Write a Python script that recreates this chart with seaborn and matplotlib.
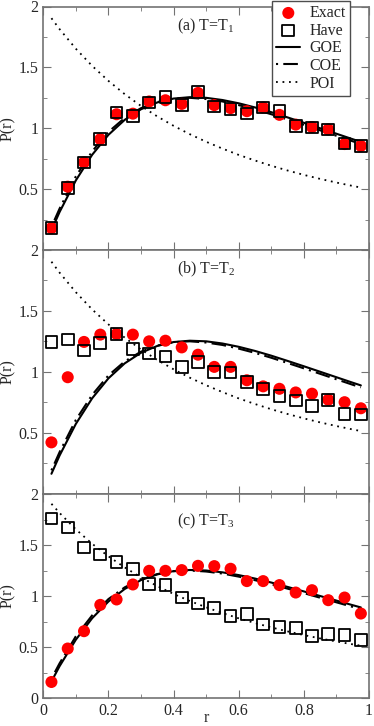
import matplotlib
matplotlib.use('Agg')
from matplotlib import pyplot as plt
import pandas as pd
import seaborn as sns

# bin centres of the histogram
r_bins = [0.025, 0.075, 0.125, 0.175, 0.225, 0.275, 0.325, 0.375, 0.425, 0.475,
          0.525, 0.575, 0.625, 0.675, 0.725, 0.775, 0.825, 0.875, 0.925, 0.975]

exact_a = [0.18, 0.52, 0.72, 0.91, 1.115, 1.12, 1.22, 1.23, 1.20, 1.29,
           1.19, 1.165, 1.14, 1.17, 1.11, 1.03, 1.01, 0.99, 0.87, 0.855]
have_a = [0.18, 0.51, 0.72, 0.91, 1.13, 1.10, 1.21, 1.255, 1.19, 1.30,
          1.18, 1.16, 1.12, 1.17, 1.14, 1.02, 1.005, 0.99, 0.875, 0.855]

exact_b = [0.42, 0.955, 1.245, 1.305, 1.31, 1.305, 1.25, 1.255, 1.20, 1.14,
           1.04, 1.04, 0.93, 0.88, 0.86, 0.83, 0.82, 0.77, 0.75, 0.70]
have_b = [1.245, 1.265, 1.175, 1.235, 1.31, 1.185, 1.15, 1.125, 1.04, 1.08,
          1.00, 0.995, 0.915, 0.86, 0.80, 0.765, 0.72, 0.77, 0.655, 0.65]

exact_c = [0.157, 0.485, 0.655, 0.913, 0.966, 1.113, 1.247, 1.247, 1.254, 1.296,
           1.293, 1.267, 1.146, 1.146, 1.107, 1.034, 1.057, 0.959, 0.985, 0.828]
have_c = [1.761, 1.673, 1.476, 1.408, 1.333, 1.264, 1.116, 1.106, 0.985, 0.926,
          0.884, 0.805, 0.822, 0.720, 0.697, 0.687, 0.605, 0.625, 0.615, 0.566]

# reference curves
r_curve = [0.025, 0.05, 0.1, 0.15, 0.2, 0.25, 0.3, 0.35, 0.4, 0.45, 0.5,
           0.55, 0.6, 0.65, 0.7, 0.75, 0.8, 0.85, 0.9, 0.95, 0.975]
goe = [0.162, 0.312, 0.572, 0.782, 0.946, 1.069, 1.156, 1.212, 1.244, 1.255, 1.25,
       1.232, 1.205, 1.171, 1.132, 1.089, 1.045, 1.000, 0.955, 0.910, 0.888]
coe = [0.19, 0.34, 0.605, 0.81, 0.97, 1.085, 1.165, 1.215, 1.243, 1.25, 1.24,
       1.22, 1.19, 1.155, 1.115, 1.072, 1.028, 0.983, 0.938, 0.893, 0.872]
poi = [1.904, 1.814, 1.653, 1.512, 1.389, 1.28, 1.183, 1.097, 1.020, 0.951, 0.889,
       0.833, 0.781, 0.735, 0.692, 0.653, 0.617, 0.584, 0.554, 0.526, 0.513]

titles = ['(a) T=T$_{1}$', '(b) T=T$_{2}$', '(c) T=T$_{3}$']

sns.set_style('ticks')
plt.rcParams['font.family'] = ['Liberation Serif', 'DejaVu Serif']
plt.rcParams['mathtext.default'] = 'regular'
plt.rcParams['font.size'] = 10.5

fig = plt.figure(figsize=(3.74, 7.26), dpi=100)
left, width = 43.3 / 374, 325.7 / 374
boxes = [(6.5, 250), (250, 493.5), (494, 698)]
axes = [fig.add_axes([left, 1 - b / 726, width, (b - t) / 726]) for t, b in boxes]

curves = pd.DataFrame({'r': r_curve, 'GOE': goe, 'COE': coe, 'POI': poi})
panels = [(exact_a, have_a), (exact_b, have_b), (exact_c, have_c)]
title_y = [1.84, 1.84, 1.73]
gray = '0.45'

for i, (ax, (ex, hv)) in enumerate(zip(axes, panels)):
    df = pd.DataFrame({'r': r_bins, 'Exact': ex, 'Have': hv})
    sns.scatterplot(data=df, x='r', y='Exact', ax=ax, color='red', s=75,
                    edgecolor='none', label='Exact', zorder=3)
    sns.scatterplot(data=df, x='r', y='Have', ax=ax, marker='s', s=70,
                    facecolor='none', edgecolor='black', linewidth=1.3,
                    label='Have', zorder=4)
    sns.lineplot(data=curves, x='r', y='GOE', ax=ax, color='black', lw=1.5,
                 label='GOE')
    sns.lineplot(data=curves, x='r', y='COE', ax=ax, color='black', lw=1.5,
                 dashes=False, label='COE').lines[-1].set_linestyle((0, (1, 2.5, 7, 2.5)))
    sns.lineplot(data=curves, x='r', y='POI', ax=ax, color='black', lw=1.3,
                 label='POI').lines[-1].set_linestyle((0, (1, 2.6)))

    ax.set_xlim(0, 1)
    ax.set_ylim(0, 2)
    ax.set_xticks([0, 0.2, 0.4, 0.6, 0.8, 1])
    ax.set_xticks([0.1, 0.3, 0.5, 0.7, 0.9], minor=True)
    ax.set_yticks([0, 0.5, 1, 1.5, 2])
    ax.set_yticks([0.25, 0.75, 1.25, 1.75], minor=True)
    ax.tick_params(which='both', direction='in', top=True, right=True,
                   color=gray, labelsize=11.5)
    ax.tick_params(which='major', length=6)
    ax.tick_params(which='minor', length=3)
    for sp in ax.spines.values():
        sp.set_color(gray)
        sp.set_linewidth(1.2)
    ax.set_ylabel('P(r)', fontsize=11.5, labelpad=2)
    ax.text(0.5, title_y[i], titles[i], ha='center', va='center', fontsize=11.5)

    if i < 2:
        ax.set_xlabel('')
        ax.tick_params(labelbottom=False)
        ax.set_yticklabels(['', '0.5', '1', '1.5', '2'])
        if i == 1:
            ax.get_legend().remove()
    else:
        ax.set_xlabel('r', fontsize=11.5)
        ax.xaxis.set_label_coords(0.5, -0.06)
        ax.set_xticklabels(['0', '0.2', '0.4', '0.6', '0.8', '1'])
        ax.set_yticklabels(['0', '0.5', '1', '1.5', '2'])
        ax.get_legend().remove()

leg = axes[0].legend(loc='upper right', bbox_to_anchor=(0.942, 1.022),
                     borderaxespad=0, handlelength=1.5, handletextpad=0.6,
                     labelspacing=0.1, fontsize=11.5, fancybox=False,
                     framealpha=1, borderpad=0.25)
leg.get_frame().set_edgecolor('0.3')
leg.get_frame().set_linewidth(1.0)
leg.set_zorder(10)

fig.savefig('out.png', dpi=100)
